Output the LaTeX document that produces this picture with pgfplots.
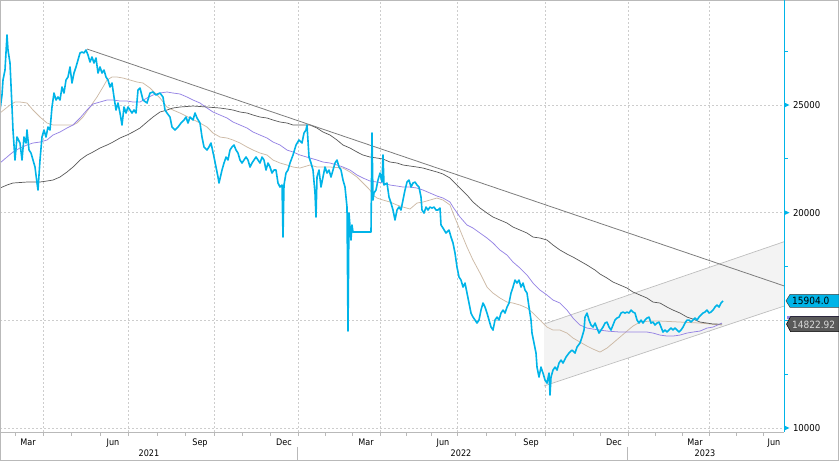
\documentclass[border=0pt]{standalone}
\usepackage{pgfplots}
\pgfplotsset{compat=1.18}
\usepackage{pgfplotstable}
\usepackage{fontspec}
\setmainfont{DejaVu Sans Condensed}
\definecolor{bcyan}{RGB}{0,180,232}
\definecolor{tanma}{RGB}{205,186,166}
\definecolor{purplema}{RGB}{150,132,228}
\definecolor{darkma}{RGB}{88,88,88}
\definecolor{trend}{RGB}{125,125,125}
\definecolor{gridc}{RGB}{205,205,205}
\definecolor{framec}{RGB}{185,185,185}
\definecolor{chanfill}{RGB}{243,243,243}
\definecolor{chanedge}{RGB}{190,190,190}
\definecolor{tagdark}{RGB}{90,90,90}

% time index t (trading-time scale), value v
\pgfplotstableread{
t v
0 24767
2 25464
3 26161
5 26625
7 28251
8 27554
10 26951
12 24907
13 23838
15 22445
17 23513
20 23235
22 22445
24 23513
26 23235
27 23838
29 22909
31 22770
33 22445
35 22120
37 21377
38 21051
40 22445
42 23513
44 23838
46 23513
48 23978
50 23838
52 24907
54 25557
56 25232
58 25371
60 25232
62 25836
64 25557
66 26161
68 26300
70 26765
72 26022
74 26486
76 26765
78 27090
80 27415
82 27462
84 27415
86 27554
88 27322
90 26997
92 27229
94 26951
96 27183
98 26486
100 26765
102 26486
104 26625
106 26300
108 26161
110 25836
112 26022
114 25371
116 24767
118 25093
120 24628
122 24071
124 24907
126 24628
128 24907
130 24767
132 24628
134 24767
136 24628
138 25696
140 25789
143 25232
147 25093
150 25557
153 25604
156 25464
160 25557
163 25371
165 24767
167 24628
170 24442
172 23978
175 23838
178 23978
181 24164
184 24303
186 24442
188 24164
190 24442
193 24303
195 24628
197 24396
200 24164
202 23513
204 23049
207 22909
209 23049
211 23235
214 22584
216 22120
218 21655
219 21377
222 21980
224 22306
226 22584
228 22445
230 22909
232 23049
234 23142
236 22909
238 22770
240 22445
242 22306
244 22445
246 22584
248 22445
250 22120
252 22306
254 22445
256 22584
258 22445
260 22306
262 22584
264 22445
266 21980
268 22306
270 22120
272 21841
274 21980
276 21980
278 21377
280 21191
282 21284
283 18868
284 21284
286 21841
288 21980
290 22306
293 22677
296 23142
299 23374
302 23235
304 23699
306 23838
307 24071
309 22584
311 22306
313 21980
315 20912
316 19797
317 21655
319 21980
321 21191
323 21655
325 22120
327 21841
329 21980
331 21655
333 21980
335 22306
337 22445
339 22120
341 21980
343 21516
345 21191
347 20262
348 14502
349 19983
351 18729
352 19426
353 19101
371 19101
372 23699
373 20587
374 20912
376 21051
378 21516
380 21841
382 21423
383 22677
384 21284
387 21377
389 20726
391 20448
393 20122
395 19658
397 20122
399 20262
401 20122
403 20587
405 21051
407 21423
409 21516
411 21191
413 21377
415 21423
417 21284
419 21191
421 20726
422 20122
424 19983
426 20262
428 20122
430 20262
432 20215
434 20262
436 20122
438 20122
440 20215
441 19426
443 19286
446 19054
449 19193
451 18868
453 18590
455 18125
457 17475
459 17010
461 16871
463 16546
465 16732
467 16267
469 15803
471 15338
473 15152
475 15013
477 14874
479 15013
481 15477
483 15803
485 15617
487 15338
489 15013
491 14688
493 14548
495 15013
497 15152
499 15013
501 15338
503 15477
505 15338
507 15617
509 15803
511 16267
513 16546
515 16871
517 16732
519 16871
521 16546
523 16732
525 16406
527 16267
529 15617
531 15013
532 14409
534 13945
536 13480
537 12830
539 12365
541 12830
543 12551
545 12226
547 12087
549 12551
550 11529
551 12365
553 12690
555 12830
557 12690
559 13016
561 13155
563 13016
566 13294
569 13480
572 13619
575 13480
577 13759
580 13945
582 14223
584 14548
585 15152
587 15338
589 15013
591 14781
593 14688
595 14874
597 14641
599 14409
601 14548
603 14688
605 14874
607 14920
609 14688
611 14548
613 14781
615 15013
617 15106
619 15152
621 15338
623 15385
625 15338
627 15385
629 15338
631 15477
633 15385
635 15338
637 15013
639 14874
641 15013
643 14874
645 15013
647 15106
649 15152
651 14874
653 14920
655 14781
657 14874
659 14920
661 14688
663 14456
665 14548
667 14456
669 14548
671 14641
673 14548
675 14641
677 14548
679 14456
681 14548
683 14688
685 14874
687 15013
689 15013
691 14920
693 15013
695 15106
697 15013
699 15152
701 15245
703 15338
705 15385
707 15477
709 15338
711 15385
713 15477
715 15617
717 15710
719 15617
721 15803
723 15904
}\price

\pgfplotstableread{
t v
0 24628
10 25000
15 25139
20 25139
27 25093
33 24767
40 24442
47 24164
53 24071
60 24071
67 24071
73 24071
77 24164
83 24442
90 24907
97 25371
103 25836
107 26161
112 26300
117 26300
123 26254
130 26161
137 26068
143 26022
150 25789
160 25325
167 24907
173 24767
180 24628
190 24396
200 24164
207 23978
213 23699
220 23513
227 23467
233 23374
240 23235
247 23049
253 22909
260 22770
267 22677
273 22445
280 22306
287 22213
293 22120
300 22073
310 22213
317 22120
330 22120
343 22073
350 21888
357 21655
363 21377
370 21051
373 20819
377 20680
383 20587
390 20494
397 20355
403 20262
410 20169
417 20448
423 20494
430 20587
437 20680
443 20587
450 20355
453 19983
460 19193
467 18404
473 17800
480 17196
487 16546
493 16267
500 16035
507 15849
513 15803
520 15710
527 15570
533 15338
540 15013
547 14688
553 14548
560 14548
567 14409
573 14177
580 13991
587 13805
593 13666
600 13526
607 13712
613 13945
620 14223
627 14502
633 14734
640 14920
650 14967
660 14967
680 14920
700 14874
722 14781
}\tanma

\pgfplotstableread{
t v
0 22306
7 22584
13 22817
20 23002
27 23142
33 23235
40 23281
47 23374
53 23606
60 23746
67 23931
73 24071
80 24396
87 24767
93 25046
100 25139
107 25232
113 25232
120 25186
127 25186
133 25139
140 25139
147 25325
153 25464
160 25557
167 25604
173 25557
180 25511
187 25371
193 25232
200 25093
207 24860
213 24675
220 24535
227 24396
233 24210
240 24071
247 23931
253 23746
260 23606
267 23467
273 23281
280 23142
287 22909
293 22817
300 22677
310 22538
317 22445
323 22352
330 22306
337 22213
343 22120
350 21980
357 21748
363 21609
370 21470
377 21423
383 21377
390 21284
397 21237
403 21191
410 21191
417 21144
423 21051
430 20912
437 20773
443 20680
450 20494
453 20262
460 19797
467 19426
473 19286
480 19054
487 18822
493 18590
500 18264
507 18032
513 17707
520 17428
527 17103
533 16732
540 16406
547 16174
553 15942
560 15803
567 15477
573 15106
580 14781
587 14641
593 14595
600 14548
607 14502
620 14456
647 14456
653 14409
660 14316
667 14270
673 14270
680 14316
687 14409
693 14456
700 14502
707 14641
713 14688
722 14874
}\purplema

\pgfplotstableread{
t v
0 21144
7 21284
13 21377
27 21423
40 21423
47 21470
53 21516
60 21655
67 21888
73 22120
80 22445
87 22677
93 22817
100 23002
107 23142
113 23281
120 23467
127 23606
133 23746
140 23931
147 24210
153 24442
160 24675
167 24767
173 24860
180 24907
193 24953
207 24907
220 24860
227 24814
233 24767
240 24675
247 24628
253 24535
260 24442
267 24396
273 24303
280 24210
287 24164
293 24071
310 24071
317 23931
323 23746
330 23606
337 23374
343 23142
350 23002
357 22817
363 22677
370 22584
377 22538
383 22491
390 22352
397 22306
403 22213
410 22166
417 22120
423 22073
430 21980
437 21888
443 21795
450 21609
460 21144
467 20819
473 20494
480 20215
487 19983
493 19797
500 19658
507 19519
513 19333
520 19193
527 19054
533 18868
540 18822
547 18729
553 18497
560 18264
567 18079
573 17939
580 17754
587 17568
595 17335
600 17150
607 16964
613 16778
620 16639
627 16499
633 16314
640 16174
647 16035
653 15849
660 15803
667 15617
673 15477
680 15338
687 15152
693 15059
700 14920
707 14874
713 14827
722 14823
}\darkma

\begin{document}
\begin{tikzpicture}
\useasboundingbox (0,0) rectangle (839bp,461bp);
\begin{axis}[
  at={(0bp,29bp)}, anchor=south west,
  scale only axis, width=784bp, height=432bp,
  xmin=0, xmax=784, ymin=9814, ymax=29877,
  axis line style={draw=none},
  /pgf/number format/assume math mode=true,
  ticklabel style={font=\fontsize{9.5bp}{10bp}\selectfont},
  xtick={43,128,214,298,380,457,545,628,709},
  xticklabels={},
  minor xtick={15,71,100,157,185,242,270,325,352,406,431,486,515,573,600,655,682,736,763},
  extra x ticks={28,113,200,284,366,443,531,614,695,774},
  extra x tick labels={Mar,Jun,Sep,Dec,Mar,Jun,Sep,Dec,Mar,Jun},
  extra x tick style={grid=none, major tick length=0pt,
     xticklabel style={yshift=-3bp, font=\fontsize{9bp}{10bp}\selectfont}},
  ytick={10000,20000,25000},
  minor ytick={12500,15000,17500,22500,27500},
  xtick pos=bottom, ytick pos=right, yticklabel pos=right,
  tick align=outside,
  major tick length=3.5bp, minor tick length=3.5bp,
  xtick style={framec, line width=0.5bp},
  ytick style={bcyan, line width=0.8bp},
  yticklabel style={anchor=west, xshift=2bp},
  scaled y ticks=false,
  yticklabel={\pgfmathprintnumber[fixed, 1000 sep={}]{\tick}},
  xmajorgrids, ymajorgrids,
  grid style={gridc, line width=0.5bp, dash pattern=on 2bp off 2bp},
]
% 15000 grid line
\addplot[gridc, line width=0.5bp, dash pattern=on 2bp off 2bp] coordinates {(0,15000) (784,15000)};
% channel
\addplot[draw=none, fill=chanfill] coordinates {(544,14827) (784,18650) (784,15660) (544,11950)} -- cycle;
\addplot[chanedge, line width=0.7bp] coordinates {(544,14827) (784,18650)};
\addplot[chanedge, line width=0.7bp] coordinates {(544,11950) (784,15660)};
% moving averages
\addplot[tanma, line width=0.75bp] table[x=t,y=v] {\tanma};
\addplot[purplema, line width=0.75bp] table[x=t,y=v] {\purplema};
\addplot[darkma, line width=0.7bp] table[x=t,y=v] {\darkma};
% trendline
\addplot[trend, line width=0.8bp] coordinates {(87,27601) (784,16600)};
% price
\addplot[bcyan, line width=1.6bp, line join=round] table[x=t,y=v] {\price};
\coordinate (tagA) at (axis cs:784,15904);
\coordinate (tagB) at (axis cs:784,14822.92);
\coordinate (t10) at (axis cs:784,10000);
\coordinate (t20) at (axis cs:784,20000);
\coordinate (t25) at (axis cs:784,25000);
\coordinate (y21) at (axis cs:149,9814);
\coordinate (y22) at (axis cs:461,9814);
\coordinate (y23) at (axis cs:705,9814);
\coordinate (s22) at (axis cs:297,9814);
\coordinate (s23) at (axis cs:627,9814);
\end{axis}
% frames
\draw[framec, line width=0.8bp] (0.4bp,0.4bp) rectangle (838.6bp,460.6bp);
\draw[framec, line width=0.8bp] (0bp,29bp) -- (784bp,29bp);
\draw[bcyan, line width=1bp] (784bp,29bp) -- (784bp,461bp);
\draw[framec, line width=0.8bp] (s22) ++(0,-15bp) -- ++(0,-14bp);
\draw[framec, line width=0.8bp] (s23) ++(0,-15bp) -- ++(0,-14bp);
\foreach \c in {t10,t20,t25} {\fill[bcyan] (\c) ++(0,2.6bp) -- ++(5.5bp,-2.6bp) -- ++(-5.5bp,-2.6bp) -- cycle;}
\node[font=\fontsize{9bp}{10bp}\selectfont] at ([yshift=-21.5bp]y21) {2021};
\node[font=\fontsize{9bp}{10bp}\selectfont] at ([yshift=-21.5bp]y22) {2022};
\node[font=\fontsize{9bp}{10bp}\selectfont] at ([yshift=-21.5bp]y23) {2023};
% price tags
\draw[fill=purplema, draw=purplema] ([xshift=3bp,yshift=6bp]tagB) -- ++(52bp,0) -- ++(0,2bp) -- ++(-52bp,0) -- cycle;
\draw[fill=tagdark, draw=black, line width=0.5bp] ([xshift=2.5bp]tagB) -- ++(4bp,7.5bp) -- ++(48.5bp,0) -- ++(0,-15bp) -- ++(-48.5bp,0) -- cycle;
\node[anchor=west, text=white!85!black, inner sep=0pt, font=\fontsize{10bp}{11bp}\selectfont] at ([xshift=8bp,yshift=-0.3bp]tagB) {14822.92};
\draw[fill=bcyan, draw=black!75, line width=0.5bp] ([xshift=2bp]tagA) -- ++(4bp,6.5bp) -- ++(49bp,0) -- ++(0,-13bp) -- ++(-49bp,0) -- cycle;
\node[anchor=west, text=black, inner sep=0pt, font=\fontsize{10bp}{11bp}\selectfont] at ([xshift=8bp,yshift=-0.3bp]tagA) {15904.0};
\end{tikzpicture}
\end{document}
